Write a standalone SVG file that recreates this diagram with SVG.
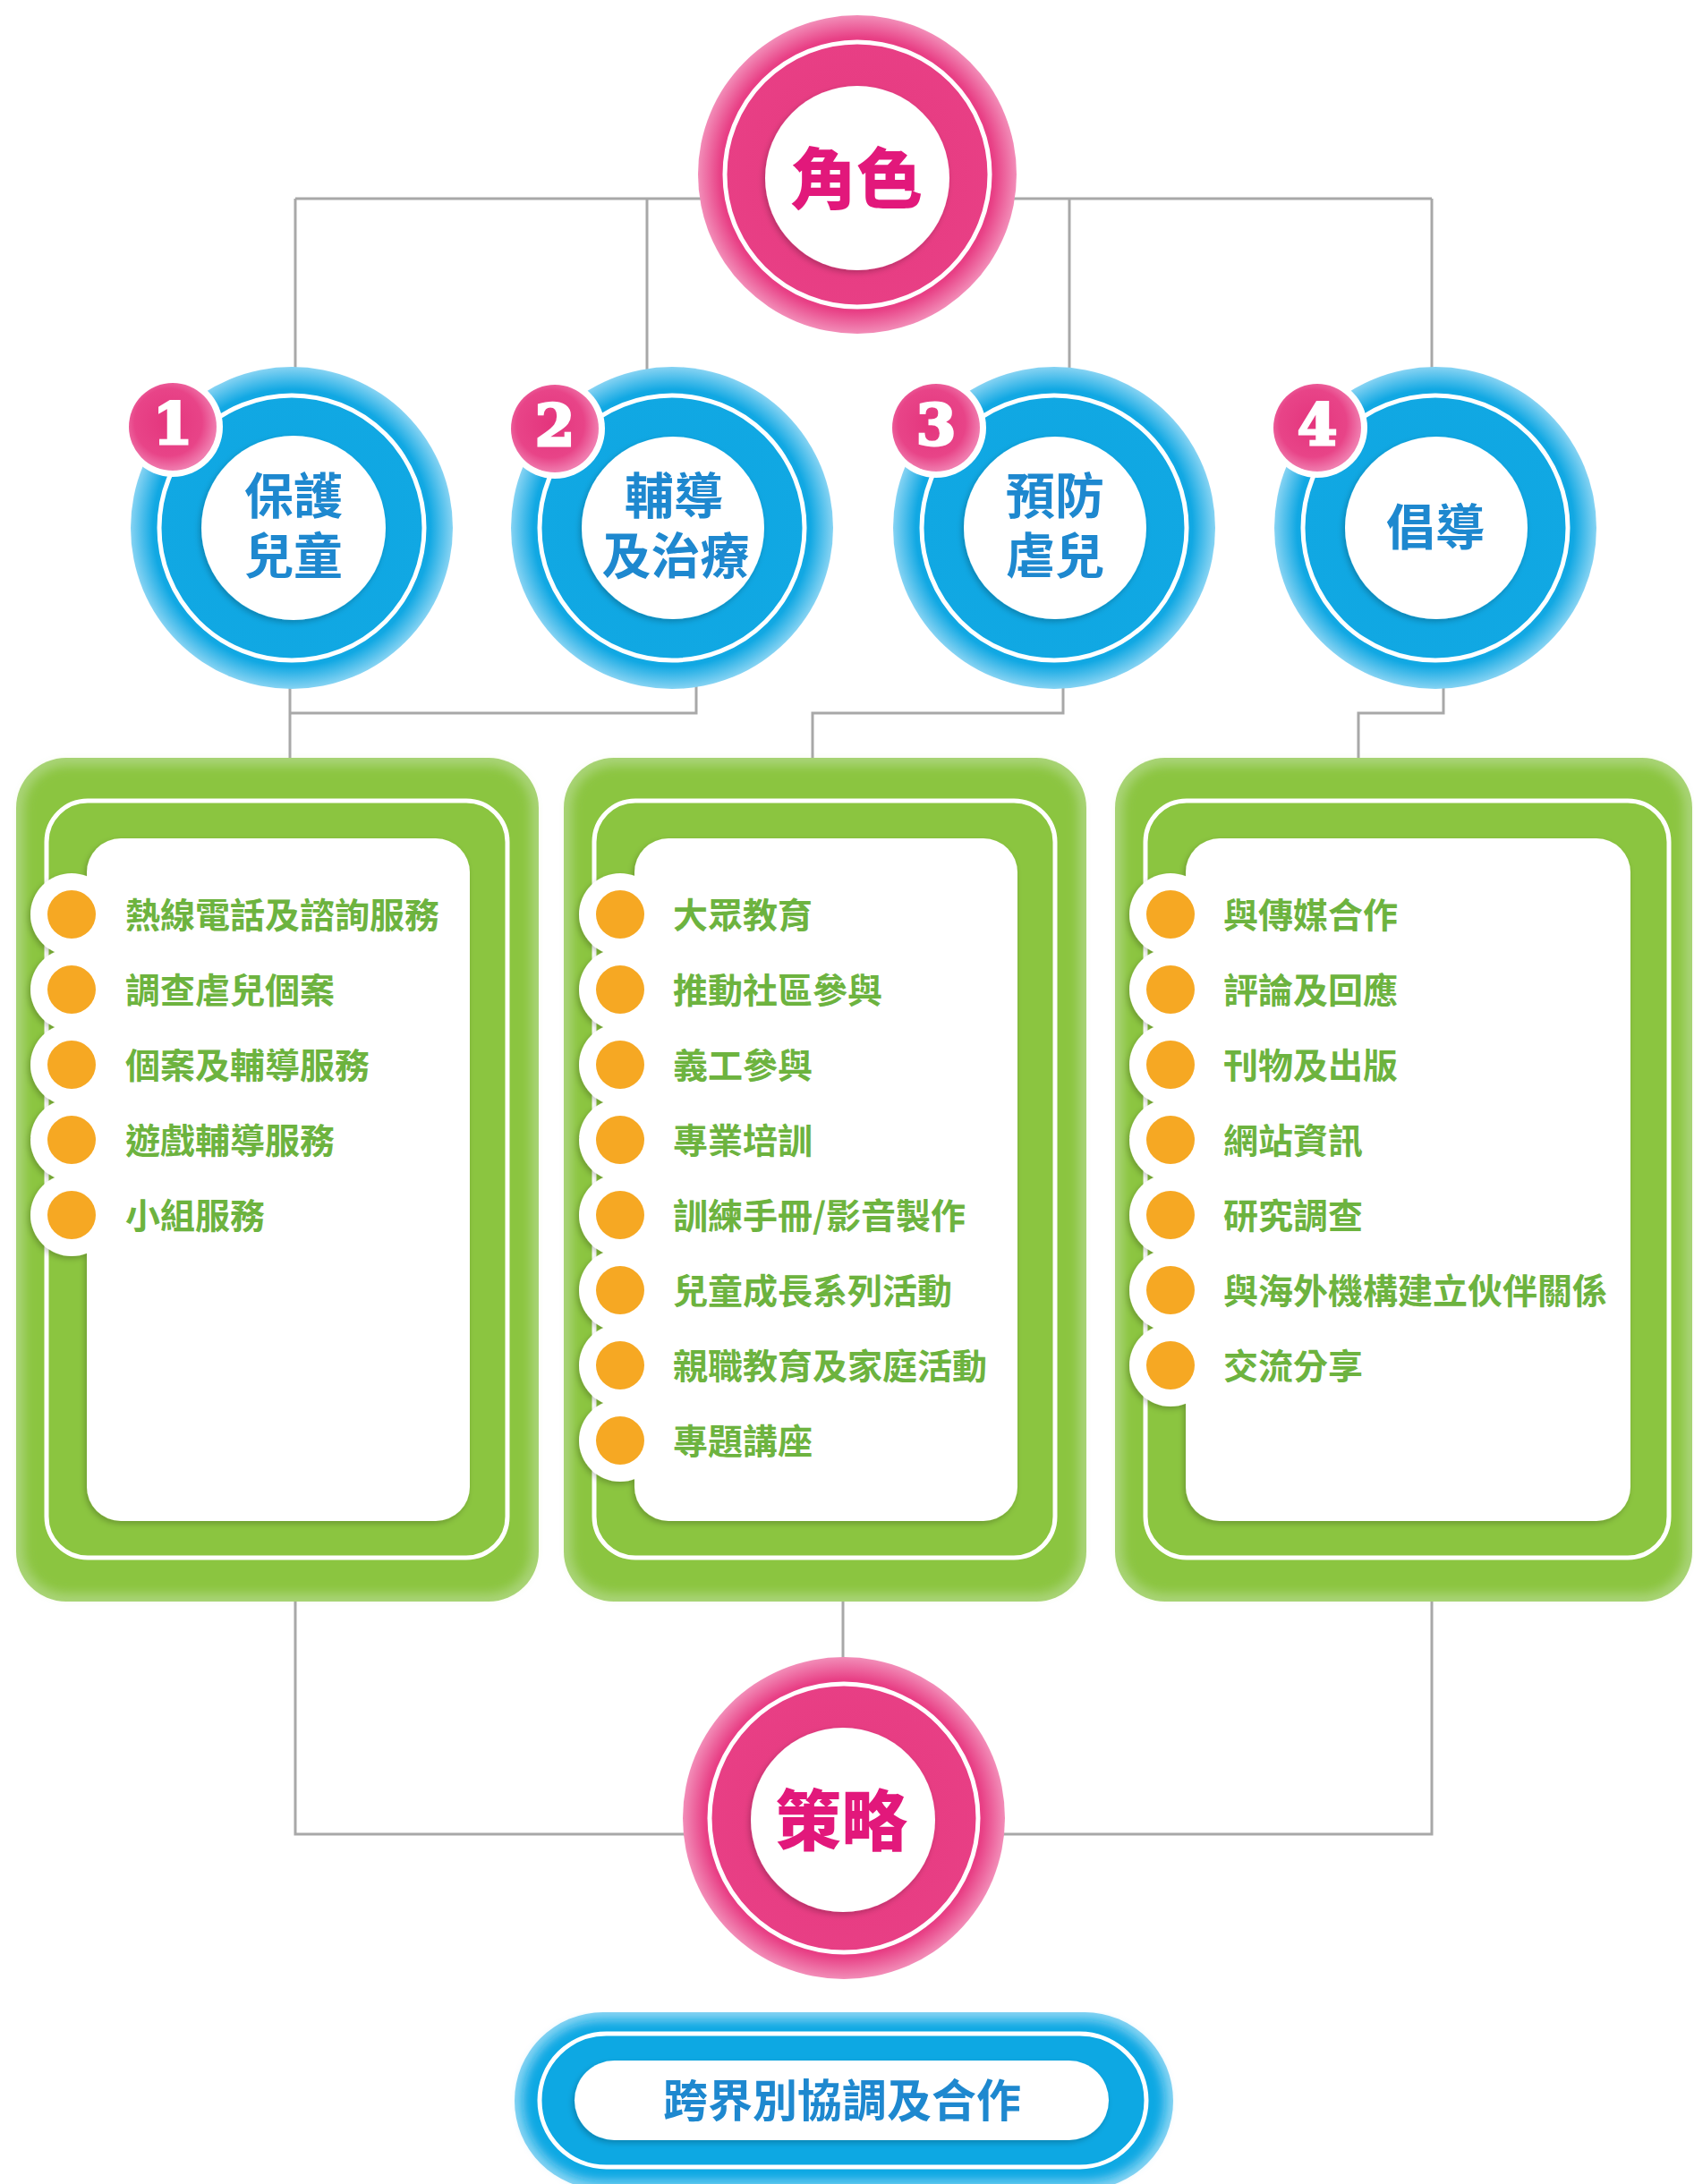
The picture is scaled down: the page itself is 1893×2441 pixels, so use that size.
<svg xmlns="http://www.w3.org/2000/svg" width="1893" height="2441" viewBox="0 0 1893 2441">
<style>
.conn{fill:none;stroke:#A8A8A8;stroke-width:3}
.ring{fill:none;stroke:#ffffff;stroke-width:5}
.ttl{font-family:"Noto Sans CJK TC","Noto Sans CJK SC",sans-serif;font-weight:900;fill:#E2187B;font-size:74px;text-anchor:middle;dominant-baseline:central}
.role{font-family:"Noto Sans CJK TC","Noto Sans CJK SC",sans-serif;font-weight:700;fill:#1E88CF;font-size:55px;text-anchor:middle;dominant-baseline:central}
.num{font-family:"DejaVu Serif",serif;font-weight:bold;fill:#ffffff;stroke:#ffffff;stroke-width:3;font-size:64px;text-anchor:middle;dominant-baseline:central}
.item{font-family:"Noto Sans CJK TC","Noto Sans CJK SC",sans-serif;font-weight:700;fill:#6DB33F;font-size:39px;dominant-baseline:central}
.dot{fill:#F6A823}
.bump{fill:#ffffff}
.gout{fill:#A9D477}
.gin{fill:#8BC540}
.white{fill:#ffffff}
</style>
<defs>
<radialGradient id="pinkG" cx="0.5" cy="0.5" r="0.5">
<stop offset="0" stop-color="#E6397F"/>
<stop offset="0.86" stop-color="#E83F85"/>
<stop offset="1" stop-color="#F28DB8"/>
</radialGradient>
<radialGradient id="blueG" cx="0.5" cy="0.5" r="0.5">
<stop offset="0" stop-color="#0DA6E2"/>
<stop offset="0.86" stop-color="#11A8E3"/>
<stop offset="1" stop-color="#86D3F3"/>
</radialGradient>
<radialGradient id="badgeG" cx="0.45" cy="0.45" r="0.55">
<stop offset="0" stop-color="#E4357D"/>
<stop offset="0.7" stop-color="#E84488"/>
<stop offset="1" stop-color="#F07DAF"/>
</radialGradient>
<filter id="soft" x="-5%" y="-5%" width="110%" height="110%">
<feGaussianBlur stdDeviation="6"/>
</filter>
<filter id="ds" x="-20%" y="-20%" width="140%" height="140%">
<feDropShadow dx="-2" dy="3" stdDeviation="3" flood-color="#000000" flood-opacity="0.22"/>
</filter>
</defs>

<g id="connectors">
<path class="conn" d="M330,222 H1600"/>
<path class="conn" d="M330,222 V450"/>
<path class="conn" d="M723,222 V450"/>
<path class="conn" d="M1195,222 V450"/>
<path class="conn" d="M1600,222 V450"/>
<path class="conn" d="M324,740 V860"/>
<path class="conn" d="M324,797 H778 V740"/>
<path class="conn" d="M1188,740 V797 H908 V860"/>
<path class="conn" d="M1613,740 V797 H1518 V860"/>
<path class="conn" d="M330,1780 V2050 H800"/>
<path class="conn" d="M1600,1780 V2050 H1100"/>
<path class="conn" d="M942,1780 V1880"/>
</g>

<g id="role-title">
<circle cx="958" cy="195" r="178" fill="url(#pinkG)"/>
<circle cx="958" cy="195" r="148" class="ring"/>
<circle cx="958" cy="199" r="103" class="white" filter="url(#ds)"/>
<text class="ttl" x="957" y="194">角色</text>
</g>

<g id="role-1">
<circle cx="326" cy="590" r="180" fill="url(#blueG)"/>
<circle cx="326" cy="590" r="148" class="ring"/>
<circle cx="328" cy="590" r="103" class="white" filter="url(#ds)"/>
<text class="role"><tspan x="328" y="550">保護</tspan><tspan x="328" y="617">兒童</tspan></text>
<circle cx="193" cy="477" r="56" class="white"/>
<circle cx="193" cy="477" r="49" fill="url(#badgeG)"/>
<text class="num" x="193" y="473">1</text>
</g>

<g id="role-2">
<circle cx="751" cy="590" r="180" fill="url(#blueG)"/>
<circle cx="751" cy="590" r="148" class="ring"/>
<circle cx="752" cy="590" r="102" class="white" filter="url(#ds)"/>
<text class="role"><tspan x="753" y="550">輔導</tspan><tspan x="755" y="617">及治療</tspan></text>
<circle cx="620" cy="479" r="56" class="white"/>
<circle cx="620" cy="479" r="49" fill="url(#badgeG)"/>
<text class="num" x="620" y="475">2</text>
</g>

<g id="role-3">
<circle cx="1178" cy="590" r="180" fill="url(#blueG)"/>
<circle cx="1178" cy="590" r="148" class="ring"/>
<circle cx="1179" cy="590" r="102" class="white" filter="url(#ds)"/>
<text class="role"><tspan x="1179" y="550">預防</tspan><tspan x="1179" y="617">虐兒</tspan></text>
<circle cx="1046" cy="478" r="56" class="white"/>
<circle cx="1046" cy="478" r="49" fill="url(#badgeG)"/>
<text class="num" x="1046" y="474">3</text>
</g>

<g id="role-4">
<circle cx="1604" cy="590" r="180" fill="url(#blueG)"/>
<circle cx="1604" cy="590" r="148" class="ring"/>
<circle cx="1605" cy="590" r="102" class="white" filter="url(#ds)"/>
<text class="role" x="1604" y="585">倡導</text>
<circle cx="1472" cy="478" r="56" class="white"/>
<circle cx="1472" cy="478" r="49" fill="url(#badgeG)"/>
<text class="num" x="1472" y="474">4</text>
</g>

<g id="strategy-box-1">
<rect class="gout" x="18" y="847" width="584" height="943" rx="56"/>
<rect class="gin" x="27" y="856" width="566" height="925" rx="48" filter="url(#soft)"/>
<rect class="ring" x="52" y="895" width="515" height="846" rx="46"/>
<g filter="url(#ds)">
<rect class="white" x="97" y="937" width="428" height="763" rx="38"/>
<circle class="bump" cx="80" cy="1022" r="46"/>
<circle class="bump" cx="80" cy="1106" r="46"/>
<circle class="bump" cx="80" cy="1190" r="46"/>
<circle class="bump" cx="80" cy="1274" r="46"/>
<circle class="bump" cx="80" cy="1358" r="46"/>
</g>
<circle class="dot" cx="80" cy="1022" r="27"/>
<circle class="dot" cx="80" cy="1106" r="27"/>
<circle class="dot" cx="80" cy="1190" r="27"/>
<circle class="dot" cx="80" cy="1274" r="27"/>
<circle class="dot" cx="80" cy="1358" r="27"/>
<text class="item" x="140" y="1020">熱線電話及諮詢服務</text>
<text class="item" x="140" y="1104">調查虐兒個案</text>
<text class="item" x="140" y="1188">個案及輔導服務</text>
<text class="item" x="140" y="1272">遊戲輔導服務</text>
<text class="item" x="140" y="1356">小組服務</text>
</g>

<g id="strategy-box-2">
<rect class="gout" x="630" y="847" width="584" height="943" rx="56"/>
<rect class="gin" x="639" y="856" width="566" height="925" rx="48" filter="url(#soft)"/>
<rect class="ring" x="664" y="895" width="515" height="846" rx="46"/>
<g filter="url(#ds)">
<rect class="white" x="709" y="937" width="428" height="763" rx="38"/>
<circle class="bump" cx="693" cy="1022" r="46"/>
<circle class="bump" cx="693" cy="1106" r="46"/>
<circle class="bump" cx="693" cy="1190" r="46"/>
<circle class="bump" cx="693" cy="1274" r="46"/>
<circle class="bump" cx="693" cy="1358" r="46"/>
<circle class="bump" cx="693" cy="1442" r="46"/>
<circle class="bump" cx="693" cy="1526" r="46"/>
<circle class="bump" cx="693" cy="1610" r="46"/>
</g>
<circle class="dot" cx="693" cy="1022" r="27"/>
<circle class="dot" cx="693" cy="1106" r="27"/>
<circle class="dot" cx="693" cy="1190" r="27"/>
<circle class="dot" cx="693" cy="1274" r="27"/>
<circle class="dot" cx="693" cy="1358" r="27"/>
<circle class="dot" cx="693" cy="1442" r="27"/>
<circle class="dot" cx="693" cy="1526" r="27"/>
<circle class="dot" cx="693" cy="1610" r="27"/>
<text class="item" x="752" y="1020">大眾教育</text>
<text class="item" x="752" y="1104">推動社區參與</text>
<text class="item" x="752" y="1188">義工參與</text>
<text class="item" x="752" y="1272">專業培訓</text>
<text class="item" x="752" y="1356">訓練手冊/影音製作</text>
<text class="item" x="752" y="1440">兒童成長系列活動</text>
<text class="item" x="752" y="1524">親職教育及家庭活動</text>
<text class="item" x="752" y="1608">專題講座</text>
</g>

<g id="strategy-box-3">
<rect class="gout" x="1246" y="847" width="645" height="943" rx="56"/>
<rect class="gin" x="1255" y="856" width="627" height="925" rx="48" filter="url(#soft)"/>
<rect class="ring" x="1280" y="895" width="585" height="846" rx="46"/>
<g filter="url(#ds)">
<rect class="white" x="1325" y="937" width="497" height="763" rx="38"/>
<circle class="bump" cx="1308" cy="1022" r="46"/>
<circle class="bump" cx="1308" cy="1106" r="46"/>
<circle class="bump" cx="1308" cy="1190" r="46"/>
<circle class="bump" cx="1308" cy="1274" r="46"/>
<circle class="bump" cx="1308" cy="1358" r="46"/>
<circle class="bump" cx="1308" cy="1442" r="46"/>
<circle class="bump" cx="1308" cy="1526" r="46"/>
</g>
<circle class="dot" cx="1308" cy="1022" r="27"/>
<circle class="dot" cx="1308" cy="1106" r="27"/>
<circle class="dot" cx="1308" cy="1190" r="27"/>
<circle class="dot" cx="1308" cy="1274" r="27"/>
<circle class="dot" cx="1308" cy="1358" r="27"/>
<circle class="dot" cx="1308" cy="1442" r="27"/>
<circle class="dot" cx="1308" cy="1526" r="27"/>
<text class="item" x="1367" y="1020">與傳媒合作</text>
<text class="item" x="1367" y="1104">評論及回應</text>
<text class="item" x="1367" y="1188">刊物及出版</text>
<text class="item" x="1367" y="1272">網站資訊</text>
<text class="item" x="1367" y="1356">研究調查</text>
<text class="item" x="1367" y="1440">與海外機構建立伙伴關係</text>
<text class="item" x="1367" y="1524">交流分享</text>
</g>

<g id="strategy-title">
<circle cx="943" cy="2032" r="180" fill="url(#pinkG)"/>
<circle cx="943" cy="2032" r="150" class="ring"/>
<circle cx="942" cy="2034" r="103" class="white" filter="url(#ds)"/>
<text class="ttl" x="940" y="2029">策略</text>
</g>

<g id="cooperation">
<rect x="575" y="2249" width="736" height="198" rx="99" fill="#86D3F3"/>
<rect x="584" y="2258" width="718" height="180" rx="90" fill="#10A8E3" filter="url(#soft)"/>
<rect class="ring" x="603" y="2273" width="678" height="149" rx="74.5"/>
<rect class="white" x="642" y="2303" width="597" height="89" rx="44.5" filter="url(#ds)"/>
<text class="role" x="941" y="2344" style="font-size:50px">跨界別協調及合作</text>
</g>
</svg>
